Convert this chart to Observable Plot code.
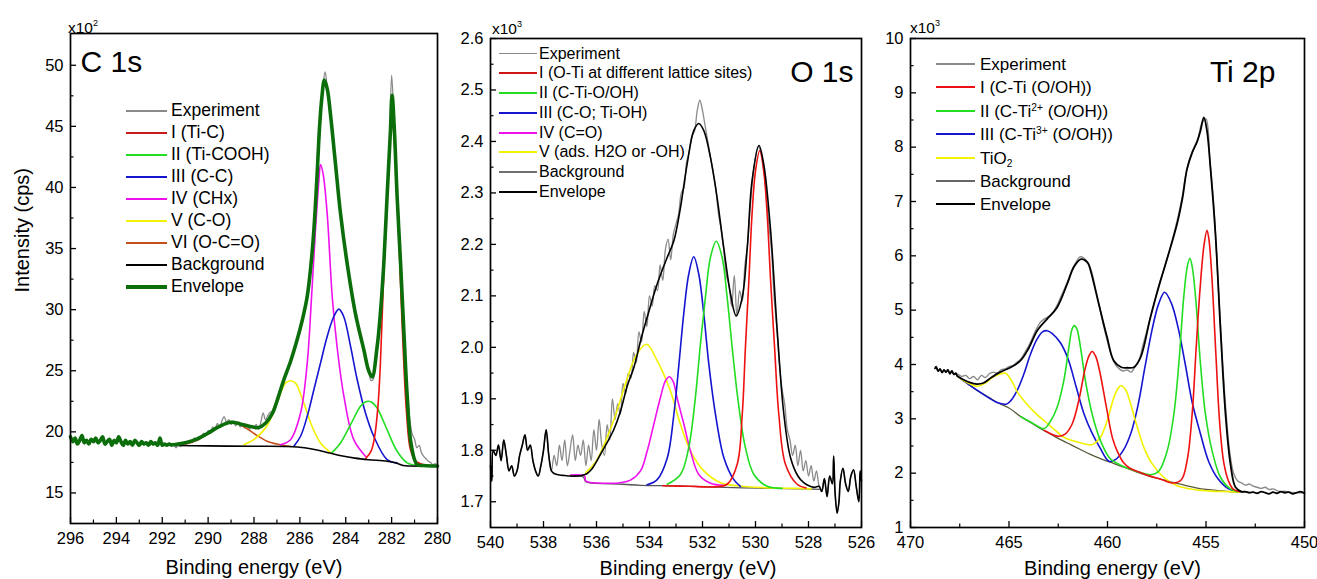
<!DOCTYPE html>
<html><head><meta charset="utf-8">
<script src="https://cdn.jsdelivr.net/npm/d3@7"></script>
<script src="https://cdn.jsdelivr.net/npm/@observablehq/plot@0.6"></script>
<style>
body{margin:0;background:#fff;font-family:"Liberation Sans",Arial,sans-serif;}
#wrap{position:relative;width:1317px;height:579px;overflow:hidden;background:#fff;}
#wrap svg{position:absolute;top:0;overflow:visible;}
.t{position:absolute;white-space:nowrap;color:#000;line-height:1;}
.ln{position:absolute;}
sup,sub{line-height:0;}
</style></head><body><div id="wrap"></div><script>
// ---------------- C 1s ----------------
const c1sNoisyTail = [[296.0,19.6],[295.9,19.2],[295.8,19.5],[295.7,19.0],[295.6,19.3],[295.5,19.7],[295.4,19.1],[295.3,19.3],[295.2,19.0],[295.1,19.4],[295.0,19.2],[294.9,19.5],[294.8,19.1],[294.7,19.3],[294.6,19.6],[294.5,19.0],[294.4,19.2],[294.3,19.4],[294.2,18.9],[294.1,19.3],[294.0,19.1],[293.9,19.6],[293.8,19.2],[293.7,18.9],[293.6,19.3],[293.5,19.0],[293.4,19.2],[293.3,18.9],[293.2,19.3],[293.1,19.1],[293.0,18.9],[292.9,19.2],[292.8,19.0],[292.7,19.1],[292.6,18.9],[292.5,19.2],[292.4,19.0],[292.3,19.1],[292.2,18.9],[292.1,19.5],[292.0,18.9],[291.9,19.0],[291.8,18.9],[291.7,19.0]];
const c1sExperimentMain = [[291.6,18.8],[291.5,19.0],[291.4,18.7],[291.3,19.0],[291.2,18.8],[291.1,19.1],[291.0,18.9],[290.9,19.2],[290.8,19.3],[290.7,19.1],[290.6,19.5],[290.5,19.3],[290.4,19.6],[290.3,19.5],[290.2,19.9],[290.1,19.7],[290.0,20.1],[289.9,20.0],[289.8,20.4],[289.7,20.2],[289.6,20.7],[289.5,20.4],[289.4,20.9],[289.3,21.25],[289.2,20.8],[289.1,21.0],[289.0,20.6],[288.9,20.9],[288.8,20.5],[288.7,20.8],[288.6,20.4],[288.5,20.7],[288.4,20.3],[288.3,20.6],[288.2,20.2],[288.1,20.5],[288.0,20.3],[287.9,20.6],[287.8,20.2],[287.7,20.8],[287.6,21.55],[287.5,21.0],[287.4,21.3],[287.3,21.6],[287.2,21.7],[287.1,22.2],[287.0,22.6],[286.9,23.3],[286.8,23.6],[286.7,24.3],[286.6,24.8],[286.5,25.2],[286.4,25.9],[286.3,26.4],[286.2,27.1],[286.1,27.7],[286.0,28.3],[285.9,29.2],[285.8,29.9],[285.7,31.0],[285.6,32.4],[285.5,34.1],[285.4,36.3],[285.3,39.3],[285.2,42.9],[285.1,45.8],[285.0,48.2],[284.9,49.45],[284.8,48.1],[284.7,46.6],[284.6,44.6],[284.5,42.9],[284.4,41.0],[284.3,39.5],[284.2,37.5],[284.1,35.6],[284.0,34.5],[283.9,33.3],[283.8,32.0],[283.7,31.0],[283.6,29.9],[283.5,29.0],[283.4,28.1],[283.3,27.3],[283.2,26.6],[283.1,25.9],[283.0,25.1],[282.9,24.2],[282.8,24.3],[282.7,25.6],[282.6,27.5],[282.5,29.4],[282.4,32.0],[282.3,35.6],[282.2,39.4],[282.1,43.0],[282.0,49.2],[281.9,45.6],[281.8,41.2],[281.7,37.0],[281.6,33.6],[281.5,29.6],[281.4,26.2],[281.3,23.0],[281.2,20.9],[281.1,19.8],[281.0,19.4],[280.9,18.7],[280.8,18.9],[280.7,18.3],[280.6,18.0],[280.5,17.8],[280.4,17.6],[280.3,17.5],[280.2,17.3],[280.1,17.4],[280.0,17.2]];
const c1sEnvelopeMain = [[291.6,18.95],[291.0,19.1],[290.5,19.4],[290.0,19.9],[289.5,20.45],[289.0,20.78],[288.6,20.65],[288.2,20.45],[287.8,20.35],[287.5,20.7],[287.2,21.5],[286.95,22.8],[286.7,24.26],[286.4,25.8],[286.12,27.53],[285.9,29.1],[285.68,31.07],[285.5,34.0],[285.39,36.5],[285.25,41.0],[285.15,44.7],[285.05,47.2],[284.93,48.8],[284.8,48.0],[284.67,46.05],[284.45,41.97],[284.23,37.9],[283.94,33.8],[283.58,29.7],[283.21,26.7],[283.0,25.0],[282.85,24.5],[282.63,27.0],[282.49,29.7],[282.34,33.8],[282.2,39.2],[282.05,44.7],[281.98,47.55],[281.88,44.7],[281.76,39.24],[281.61,33.8],[281.47,28.35],[281.32,22.9],[281.15,19.0],[280.89,17.32],[280.6,17.25],[280.0,17.2]];
const c1sBackground = [[291.8,18.9],[290.0,18.85],[288.0,18.82],[286.5,18.8],[285.8,18.7],[285.2,18.5],[284.7,18.27],[284.2,18.05],[283.6,17.85],[283.0,17.72],[282.2,17.6],[281.8,17.45],[281.5,17.25],[281.2,17.2],[280.0,17.2]];
const c1sPeakI = [[283.14,17.8],[282.9,18.4],[282.75,19.5],[282.6,22.0],[282.49,25.6],[282.38,31.07],[282.27,36.52],[282.12,41.97],[282.04,44.6],[281.98,45.8],[281.91,44.6],[281.83,41.97],[281.70,36.52],[281.59,31.07],[281.47,25.63],[281.35,21.54],[281.18,18.55],[280.95,17.6],[280.6,17.3]];
const c1sPeakII = [[284.6,18.3],[284.23,19.09],[283.79,20.59],[283.36,22.09],[283.15,22.45],[283.0,22.5],[282.85,22.4],[282.63,21.95],[282.2,20.18],[281.76,18.41],[281.32,17.46],[280.89,17.27]];
const c1sPeakIII = [[286.26,18.82],[285.97,19.64],[285.68,21.27],[285.39,23.45],[285.10,25.63],[284.81,27.8],[284.52,29.44],[284.3,30.04],[284.09,29.44],[283.79,26.99],[283.50,24.26],[283.14,21.54],[282.78,19.64],[282.2,17.73],[281.76,17.46]];
const c1sPeakIV = [[286.85,18.95],[286.41,19.36],[285.97,21.54],[285.68,25.63],[285.49,31.07],[285.32,36.52],[285.17,40.6],[285.10,41.88],[284.99,41.15],[284.81,37.88],[284.59,31.07],[284.38,26.99],[284.08,22.9],[283.65,19.36],[283.14,18.0]];
const c1sPeakV = [[288.44,18.95],[288.01,19.36],[287.43,20.5],[286.99,22.4],[286.63,23.99],[286.41,24.18],[286.19,23.99],[285.83,22.36],[285.47,20.45],[285.10,19.09],[284.67,18.33]];
const c1sPeakVI = [[291.0,19.0],[290.5,19.3],[290.05,19.83],[289.53,20.48],[289.0,20.79],[288.48,20.46],[287.95,19.8],[287.43,19.24],[286.9,18.96],[286.4,18.8]];
const c1sXTicks = [296,294,292,290,288,286,284,282,280];
const c1sXMinor = [295,293,291,289,287,285,283,281];
const c1sYTicks = [15,20,25,30,35,40,45,50];
const c1sYMinor = [17.5,22.5,27.5,32.5,37.5,42.5,47.5];
const c1sLegend = ["Experiment","I (Ti-C)","II (Ti-COOH)","III (C-C)","IV (CHx)","V (C-O)","VI (O-C=O)","Background","Envelope"];

// ---------------- O 1s ----------------
const o1sNoisyLeft = [[540.0,1.77],[539.95,1.74],[539.9,1.80],[539.8,1.79],[539.7,1.81],[539.6,1.78],[539.5,1.82],[539.4,1.79],[539.3,1.76],[539.2,1.77],[539.1,1.75],[539.0,1.76],[538.9,1.79],[538.8,1.81],[538.7,1.83],[538.6,1.80],[538.5,1.81],[538.4,1.78],[538.3,1.76],[538.2,1.75],[538.1,1.77],[538.0,1.80],[537.9,1.84],[537.8,1.79],[537.7,1.76]];
const o1sNoisyRight = [[527.5,1.72],[527.4,1.745],[527.3,1.71],[527.2,1.75],[527.1,1.735],[527.05,1.789],[527.0,1.72],[526.92,1.678],[526.85,1.70],[526.8,1.74],[526.7,1.765],[526.6,1.735],[526.5,1.72],[526.4,1.75],[526.3,1.762],[526.2,1.73],[526.1,1.70],[526.05,1.76],[526.0,1.74]];
const o1sExperimentMain = [[537.6,1.79],[537.5,1.77],[537.4,1.81],[537.3,1.78],[537.2,1.82],[537.1,1.77],[537.0,1.80],[536.9,1.83],[536.8,1.78],[536.7,1.81],[536.6,1.79],[536.5,1.82],[536.4,1.77],[536.3,1.81],[536.2,1.78],[536.1,1.84],[536.0,1.80],[535.9,1.86],[535.8,1.81],[535.7,1.79],[535.6,1.85],[535.5,1.82],[535.4,1.90],[535.3,1.86],[535.2,1.89],[535.1,1.87],[535.0,1.93],[534.9,1.91],[534.8,1.95],[534.7,1.94],[534.6,1.99],[534.5,1.97],[534.4,2.03],[534.3,2.01],[534.2,2.07],[534.1,2.04],[534.0,2.10],[533.9,2.08],[533.8,2.12],[533.7,2.11],[533.6,2.16],[533.5,2.13],[533.4,2.19],[533.3,2.21],[533.2,2.17],[533.1,2.22],[533.0,2.24],[532.9,2.26],[532.8,2.30],[532.7,2.31],[532.6,2.36],[532.5,2.38],[532.4,2.41],[532.3,2.42],[532.2,2.46],[532.1,2.48],[532.0,2.46],[531.9,2.43],[531.8,2.40],[531.7,2.37],[531.6,2.34],[531.5,2.31],[531.4,2.26],[531.3,2.23],[531.2,2.19],[531.1,2.14],[531.0,2.12],[530.9,2.08],[530.8,2.14],[530.7,2.06],[530.6,2.11],[530.5,2.09],[530.4,2.16],[530.3,2.20],[530.2,2.27],[530.1,2.33],[530.0,2.37],[529.9,2.39],[529.8,2.38],[529.7,2.35],[529.6,2.30],[529.5,2.24],[529.4,2.19],[529.3,2.10],[529.2,2.04],[529.1,1.97],[529.0,1.92],[528.9,1.89],[528.8,1.84],[528.7,1.82],[528.6,1.79],[528.5,1.81],[528.4,1.77],[528.3,1.80],[528.2,1.76],[528.1,1.78],[528.0,1.75],[527.9,1.77],[527.8,1.74],[527.7,1.76],[527.6,1.73]];
const o1sEnvelopeMain = [[537.6,1.755],[537.4,1.752],[537.2,1.751],[537.0,1.750],[536.7,1.750],[536.5,1.752],[536.35,1.755],[536.2,1.762],[536.0,1.778],[535.8,1.797],[535.6,1.815],[535.35,1.84],[535.1,1.875],[534.84,1.925],[534.59,1.961],[534.3,2.02],[534.09,2.058],[533.71,2.123],[533.33,2.175],[533.08,2.207],[532.83,2.272],[532.58,2.356],[532.33,2.421],[532.14,2.435],[531.95,2.421],[531.7,2.369],[531.45,2.291],[531.2,2.194],[530.94,2.103],[530.73,2.061],[530.5,2.097],[530.31,2.194],[530.13,2.324],[529.87,2.392],[529.69,2.356],[529.43,2.227],[529.18,2.032],[528.93,1.87],[528.68,1.786],[528.4,1.75],[528.18,1.737],[527.8,1.728],[527.6,1.73]];
const o1sBackground = [[536.98,1.750],[536.5,1.748],[536.42,1.740],[536.3,1.737],[535.0,1.734],[534.34,1.732],[533.0,1.731],[531.82,1.729],[530.5,1.727],[529.31,1.726],[528.05,1.725],[527.6,1.724]];
const o1sPeakI = [[533.5,1.731],[532.5,1.730],[531.57,1.729],[531.07,1.734],[530.69,1.773],[530.5,1.87],[530.38,2.0],[530.25,2.13],[530.13,2.259],[530.0,2.343],[529.84,2.382],[529.69,2.343],[529.56,2.259],[529.43,2.13],[529.28,2.0],[529.12,1.87],[528.87,1.773],[528.43,1.734],[528.1,1.727]];
const o1sPeakII = [[533.33,1.734],[532.83,1.753],[532.52,1.805],[532.27,1.902],[532.09,2.0],[531.89,2.097],[531.7,2.175],[531.48,2.206],[531.26,2.175],[531.07,2.097],[530.88,2.0],[530.67,1.902],[530.38,1.805],[530.06,1.753],[529.56,1.730],[529.0,1.726]];
const o1sPeakIII = [[534.09,1.733],[533.71,1.743],[533.33,1.785],[533.08,1.870],[532.89,1.967],[532.71,2.064],[532.52,2.142],[532.33,2.176],[532.14,2.142],[531.95,2.064],[531.76,1.967],[531.51,1.870],[531.19,1.785],[530.82,1.743],[530.57,1.730]];
const o1sPeakIV = [[536.98,1.752],[536.45,1.750],[536.4,1.740],[535.5,1.736],[535.1,1.737],[534.72,1.742],[534.34,1.760],[534.09,1.798],[533.84,1.850],[533.59,1.902],[533.4,1.935],[533.25,1.943],[533.1,1.933],[532.96,1.902],[532.70,1.850],[532.45,1.798],[532.14,1.753],[531.7,1.736],[531.2,1.732]];
const o1sPeakV = [[536.4,1.757],[536.0,1.78],[535.6,1.825],[535.27,1.87],[534.9,1.93],[534.5,1.985],[534.11,2.006],[533.71,1.974],[533.21,1.915],[532.83,1.850],[532.45,1.798],[531.95,1.760],[531.32,1.737],[530.69,1.731],[529.5,1.727],[528.5,1.726],[527.9,1.725]];
const o1sXTicks = [540,538,536,534,532,530,528,526];
const o1sXMinor = [539,537,535,533,531,529,527];
const o1sYTicks = [1.7,1.8,1.9,2.0,2.1,2.2,2.3,2.4,2.5,2.6];
const o1sYMinor = [1.75,1.85,1.95,2.05,2.15,2.25,2.35,2.45,2.55];
const o1sLegend = ["Experiment","I (O-Ti at different lattice sites)","II (C-Ti-O/OH)","III (C-O; Ti-OH)","IV (C=O)","V (ads. H2O or -OH)","Background","Envelope"];

// ---------------- Ti 2p ----------------
const ti2pExperiment = [[468.75,3.93],[468.7,3.96],[468.6,3.88],[468.5,3.92],[468.4,3.85],[468.3,3.9],[468.2,3.86],[468.1,3.9],[468.0,3.83],[467.9,3.88],[467.8,3.82],[467.6,3.82],[467.4,3.78],[467.2,3.80],[467.0,3.74],[466.8,3.78],[466.6,3.72],[466.4,3.80],[466.2,3.76],[466.0,3.83],[465.8,3.86],[465.6,3.84],[465.4,3.90],[465.2,3.92],[465.0,3.96],[464.8,3.98],[464.6,4.04],[464.4,4.10],[464.2,4.22],[464.0,4.34],[463.8,4.5],[463.6,4.66],[463.4,4.78],[463.2,4.84],[463.0,4.88],[462.8,4.94],[462.6,5.06],[462.4,5.22],[462.2,5.38],[462.0,5.55],[461.8,5.75],[461.6,5.88],[461.4,5.98],[461.2,5.96],[461.0,5.88],[460.8,5.7],[460.6,5.38],[460.4,5.06],[460.2,4.72],[460.0,4.42],[459.8,4.16],[459.6,4.0],[459.4,3.92],[459.2,3.88],[459.0,3.9],[458.8,3.86],[458.6,3.96],[458.4,4.08],[458.2,4.36],[458.0,4.62],[457.8,4.9],[457.6,5.18],[457.4,5.45],[457.2,5.68],[457.0,5.92],[456.8,6.17],[456.6,6.45],[456.4,6.75],[456.2,7.1],[456.0,7.55],[455.8,7.82],[455.6,8.0],[455.4,8.17],[455.2,8.45],[455.0,8.52],[454.8,7.75],[454.6,6.9],[454.4,5.6],[454.2,4.3],[454.0,3.2],[453.8,2.4],[453.6,2.0],[453.4,1.86],[453.2,1.82],[453.0,1.78],[452.8,1.80],[452.6,1.76],[452.4,1.74],[452.2,1.72],[452.0,1.74],[451.8,1.70],[451.6,1.71],[451.4,1.68],[451.2,1.66],[451.0,1.67],[450.8,1.65],[450.4,1.64],[450.0,1.64]];
const ti2pEnvelope = [[468.75,3.93],[468.7,3.96],[468.6,3.88],[468.5,3.92],[468.4,3.85],[468.3,3.9],[468.2,3.86],[468.1,3.9],[468.0,3.83],[467.9,3.88],[467.8,3.82],[467.7,3.84],[467.63,3.79],[467.3,3.72],[467.0,3.67],[466.62,3.64],[466.3,3.66],[465.9,3.76],[465.5,3.85],[465.26,3.89],[464.9,3.95],[464.42,4.07],[464.0,4.3],[463.57,4.62],[463.06,4.84],[462.56,5.05],[462.05,5.48],[461.7,5.8],[461.34,5.94],[461.0,5.87],[460.86,5.73],[460.44,5.11],[460.02,4.5],[459.68,4.07],[459.3,3.95],[459.0,3.94],[458.66,3.95],[458.32,4.13],[457.82,4.87],[457.31,5.54],[456.97,5.95],[456.46,6.6],[456.2,7.05],[455.96,7.6],[455.7,7.9],[455.45,8.1],[455.28,8.3],[455.11,8.55],[454.95,8.3],[454.77,7.6],[454.52,6.4],[454.26,4.62],[454.01,3.09],[453.76,2.17],[453.5,1.74],[453.2,1.66],[453.0,1.66],[452.8,1.64],[452.6,1.65],[452.4,1.63],[452.2,1.66],[452.0,1.64],[451.8,1.62],[451.6,1.65],[451.4,1.63],[451.2,1.66],[451.0,1.64],[450.8,1.65],[450.6,1.62],[450.4,1.64],[450.2,1.66],[450.0,1.63]];
const ti2pBackground = [[467.63,3.79],[467.0,3.62],[466.6,3.52],[466.0,3.39],[465.6,3.3],[465.0,3.2],[464.4,3.04],[463.8,2.91],[463.2,2.78],[462.6,2.66],[462.0,2.55],[461.4,2.44],[460.9,2.35],[460.3,2.26],[459.7,2.18],[459.1,2.1],[458.5,2.02],[457.9,1.95],[457.3,1.89],[456.7,1.83],[456.1,1.78],[455.5,1.73],[455.0,1.70],[454.4,1.68],[453.8,1.66],[453.0,1.65]];
const ti2pPeakI = [[463.2,2.785],[462.5,2.68],[462.15,2.72],[461.8,2.9],[461.45,3.35],[461.15,3.9],[460.95,4.15],[460.78,4.24],[460.6,4.15],[460.4,3.88],[460.05,3.2],[459.75,2.65],[459.5,2.4],[459.2,2.2],[458.9,2.1],[458.4,2.02],[457.9,1.95],[457.3,1.89],[456.7,1.82],[456.25,1.88],[455.95,2.25],[455.7,3.1],[455.5,4.3],[455.3,5.4],[455.1,6.2],[454.95,6.47],[454.85,6.3],[454.7,5.6],[454.5,4.2],[454.3,2.9],[454.1,2.2],[453.85,1.85],[453.6,1.70],[453.3,1.66]];
const ti2pPeakII = [[464.4,3.04],[463.8,2.92],[463.23,2.82],[462.89,2.96],[462.56,3.21],[462.22,3.70],[461.96,4.315],[461.8,4.65],[461.68,4.715],[461.55,4.65],[461.37,4.315],[461.12,3.70],[460.78,3.09],[460.36,2.60],[459.85,2.26],[459.5,2.18],[459.17,2.12],[458.8,2.07],[458.32,2.01],[457.8,1.97],[457.39,2.04],[456.97,2.41],[456.63,3.09],[456.38,4.01],[456.13,5.24],[455.95,5.8],[455.82,5.955],[455.7,5.8],[455.53,5.24],[455.28,4.01],[455.03,3.09],[454.69,2.41],[454.26,1.92],[453.76,1.71],[453.4,1.66]];
const ti2pPeakIII = [[467.63,3.79],[467.0,3.62],[466.3,3.45],[465.6,3.3],[465.15,3.27],[464.92,3.33],[464.59,3.52],[464.25,3.82],[463.91,4.19],[463.57,4.47],[463.3,4.6],[463.06,4.622],[462.8,4.57],[462.39,4.4],[462.0,4.1],[461.6,3.6],[461.2,3.1],[460.8,2.75],[460.4,2.48],[459.93,2.22],[459.6,2.25],[459.2,2.42],[458.8,2.75],[458.45,3.25],[458.1,3.95],[457.75,4.62],[457.4,5.12],[457.1,5.33],[456.75,5.12],[456.4,4.65],[456.05,4.0],[455.7,3.3],[455.3,2.75],[454.85,2.2],[454.4,1.9],[453.9,1.72],[453.3,1.65]];
const ti2pPeakTiO2 = [[467.63,3.79],[467.2,3.68],[466.6,3.6],[466.2,3.66],[465.85,3.76],[465.5,3.82],[465.18,3.837],[464.9,3.72],[464.59,3.50],[464.16,3.30],[463.7,3.12],[463.2,2.96],[462.81,2.84],[462.22,2.66],[461.79,2.6],[461.3,2.55],[460.9,2.52],[460.69,2.54],[460.36,2.66],[460.02,2.96],[459.68,3.39],[459.45,3.57],[459.29,3.61],[459.1,3.55],[458.92,3.39],[458.58,2.96],[458.15,2.47],[457.73,2.17],[457.14,1.92],[456.46,1.77],[455.62,1.7],[454.77,1.67],[453.8,1.66],[453.3,1.65]];
const ti2pXTicks = [470,465,460,455,450];
const ti2pXMinor = [467.5,462.5,457.5,452.5];
const ti2pYTicks = [1,2,3,4,5,6,7,8,9,10];
const ti2pYMinor = [1.5,2.5,3.5,4.5,5.5,6.5,7.5,8.5,9.5];
const ti2pLegend = ["Experiment","I (C-Ti (O/OH))","II (C-Ti<sup>2+</sup> (O/OH))","III (C-Ti<sup>3+</sup> (O/OH))","TiO<sub>2</sub>","Background","Envelope"];

// ---------------- colours ----------------
const GREY = "#8a8a8a", RED = "#ee1111", GREEN = "#22dd22", BLUE = "#1515d0", MAGENTA = "#ee11ee", YELLOW = "#f2f200", BROWN = "#c4501c", DKGREEN = "#0b6e0b";

const H = 579;
const wrap = document.getElementById("wrap");
const FONT = '"Liberation Sans", Arial, Helvetica, sans-serif';

function panel(cfg) {
  const fw = cfg.width - cfg.ml - cfg.mr, fh = H - cfg.mt - cfg.mb;
  const marks = [];
  for (const s of cfg.lines) {
    marks.push(Plot.line(s.data, {x: d => d[0], y: d => d[1], stroke: s.color, strokeWidth: s.w, curve: "catmull-rom", strokeLinejoin: "round"}));
  }
  marks.push(Plot.tickX(cfg.xTicks, {x: d => d, insetTop: fh - 6, stroke: "black", strokeWidth: 1.3}));
  marks.push(Plot.tickX(cfg.xMinor, {x: d => d, insetTop: fh - 3.5, stroke: "black", strokeWidth: 1.2}));
  marks.push(Plot.tickY(cfg.yTicks, {y: d => d, insetRight: fw - 6, stroke: "black", strokeWidth: 1.3}));
  marks.push(Plot.tickY(cfg.yMinor, {y: d => d, insetLeft: 0, insetRight: fw - 3.5, stroke: "black", strokeWidth: 1.2}));
  marks.push(Plot.axisX(cfg.xTicks, {anchor: "bottom", tickSize: 0, tickPadding: 9, fontSize: 16.5, label: null, tickFormat: d => String(d)}));
  marks.push(Plot.axisY(cfg.yTicks, {anchor: "left", tickSize: 0, tickPadding: 7, fontSize: 16.5, label: null, tickFormat: cfg.yFormat}));
  marks.push(Plot.frame({stroke: "black", strokeWidth: 1.7}));
  marks.push(Plot.text([cfg.title], {text: d => d, frameAnchor: cfg.titleAnchor, textAnchor: cfg.titleTextAnchor, lineAnchor: "top", dx: cfg.titleDx, dy: cfg.titleDy, fontSize: 30, fill: "black"}));
  marks.push(Plot.text(["Binding energy (eV)"], {text: d => d, frameAnchor: "bottom", lineAnchor: "middle", dx: cfg.xLabelDx, dy: cfg.xLabelDy, fontSize: 20, fill: "black"}));
  if (cfg.yLabel) marks.push(Plot.text([cfg.yLabel], {text: d => d, frameAnchor: "left", rotate: -90, dx: -48, dy: 14, fontSize: 20, fill: "black"}));
  const svg = Plot.plot({
    width: cfg.width, height: H,
    marginLeft: cfg.ml, marginRight: cfg.mr, marginTop: cfg.mt, marginBottom: cfg.mb,
    x: {domain: cfg.xDomain}, y: {domain: cfg.yDomain},
    style: {fontFamily: FONT, color: "black", background: "transparent", overflow: "visible"},
    marks
  });
  svg.style.left = cfg.left + "px";
  wrap.appendChild(svg);
}

function legend(labels, colors, widths, o) {
  labels.forEach((lab, i) => {
    const y = o.y0 + i * o.dy;
    const ln = document.createElement("div");
    ln.className = "ln";
    ln.style.cssText = `left:${o.x}px;top:${y - widths[i] / 2}px;width:${o.len}px;height:${widths[i]}px;background:${colors[i]};`;
    wrap.appendChild(ln);
    const t = document.createElement("div");
    t.className = "t";
    t.style.cssText = `left:${o.tx}px;top:${y}px;font-size:${o.fs}px;transform:translateY(-50%);`;
    t.innerHTML = lab.replace(/<sup>/g, '<sup style="font-size:60%;vertical-align:0.55em">').replace(/<sub>/g, '<sub style="font-size:60%;vertical-align:-0.3em">');
    wrap.appendChild(t);
  });
}

function mult(x, y, exp) {
  const t = document.createElement("div");
  t.className = "t";
  t.style.cssText = `left:${x}px;top:${y}px;font-size:15.5px;`;
  t.innerHTML = `x10<sup style="font-size:9px;vertical-align:7px">${exp}</sup>`;
  wrap.appendChild(t);
}

// Panel 1: C 1s
panel({
  left: 0, width: 440, ml: 70, mr: 3, mt: 33, mb: 56,
  xDomain: [296, 280], yDomain: [12.5, 52.6],
  xTicks: c1sXTicks, xMinor: c1sXMinor, yTicks: c1sYTicks, yMinor: c1sYMinor, yFormat: d => String(d),
  title: "C 1s", titleAnchor: "top-left", titleTextAnchor: "start", titleDx: 10, titleDy: 17,
  xLabelDx: 0, xLabelDy: 44, yLabel: "Intensity (cps)",
  lines: [
    {data: c1sNoisyTail.concat(c1sExperimentMain), color: GREY, w: 1.3},
    {data: c1sPeakVI, color: BROWN, w: 1.6},
    {data: c1sPeakV, color: YELLOW, w: 1.6},
    {data: c1sPeakIV, color: MAGENTA, w: 1.6},
    {data: c1sPeakIII, color: BLUE, w: 1.6},
    {data: c1sPeakII, color: GREEN, w: 1.6},
    {data: c1sPeakI, color: RED, w: 1.6},
    {data: c1sBackground, color: "black", w: 1.6},
    {data: c1sNoisyTail.concat(c1sEnvelopeMain), color: DKGREEN, w: 3.6}
  ]
});
legend(c1sLegend, [GREY, "#c81a1a", GREEN, BLUE, MAGENTA, YELLOW, BROWN, "black", DKGREEN], [1.5, 2, 2, 2, 2, 2, 2, 2, 3.5],
  {x: 126, len: 41, tx: 171, y0: 111, dy: 22, fs: 17.5});
mult(68, 20, "2");

// Panel 2: O 1s
panel({
  left: 440, width: 440, ml: 50, mr: 19, mt: 38, mb: 52,
  xDomain: [540, 526], yDomain: [1.65, 2.6],
  xTicks: o1sXTicks, xMinor: o1sXMinor, yTicks: o1sYTicks, yMinor: o1sYMinor, yFormat: d3.format(".1f"),
  title: "O 1s", titleAnchor: "top-right", titleTextAnchor: "end", titleDx: -8, titleDy: 22,
  xLabelDx: 12, xLabelDy: 41,
  lines: [
    {data: o1sNoisyLeft.concat(o1sExperimentMain, o1sNoisyRight), color: GREY, w: 1.3},
    {data: o1sBackground, color: "#555555", w: 1.3},
    {data: o1sPeakV, color: YELLOW, w: 1.6},
    {data: o1sPeakIV, color: MAGENTA, w: 1.6},
    {data: o1sPeakIII, color: BLUE, w: 1.6},
    {data: o1sPeakII, color: GREEN, w: 1.6},
    {data: o1sPeakI, color: RED, w: 1.6},
    {data: o1sNoisyLeft.concat(o1sEnvelopeMain, o1sNoisyRight), color: "black", w: 1.6}
  ]
});
legend(o1sLegend, [GREY, "#d01515", GREEN, BLUE, MAGENTA, YELLOW, "#707070", "black"], [1.5, 2, 2, 2, 2, 2, 1.6, 2],
  {x: 499, len: 38, tx: 539, y0: 53.5, dy: 19.75, fs: 16});
mult(492, 21, "3");

// Panel 3: Ti 2p
panel({
  left: 880, width: 437, ml: 30, mr: 13, mt: 38, mb: 52,
  xDomain: [470, 450], yDomain: [1, 10],
  xTicks: ti2pXTicks, xMinor: ti2pXMinor, yTicks: ti2pYTicks, yMinor: ti2pYMinor, yFormat: d => String(d),
  title: "Ti 2p", titleAnchor: "top-right", titleTextAnchor: "end", titleDx: -29, titleDy: 22,
  xLabelDx: 5, xLabelDy: 41,
  lines: [
    {data: ti2pExperiment, color: GREY, w: 1.4},
    {data: ti2pBackground, color: "#5a5a3a", w: 1.3},
    {data: ti2pPeakIII, color: BLUE, w: 1.6},
    {data: ti2pPeakTiO2, color: YELLOW, w: 1.6},
    {data: ti2pPeakII, color: GREEN, w: 1.6},
    {data: ti2pPeakI, color: RED, w: 1.6},
    {data: ti2pEnvelope, color: "black", w: 1.8}
  ]
});
legend(ti2pLegend, [GREY, RED, GREEN, BLUE, YELLOW, "#666666", "black"], [1.5, 2, 2, 2, 2, 1.3, 2],
  {x: 936, len: 39, tx: 980, y0: 64, dy: 23.4, fs: 17});
mult(910, 20, "3");
</script></body></html>
